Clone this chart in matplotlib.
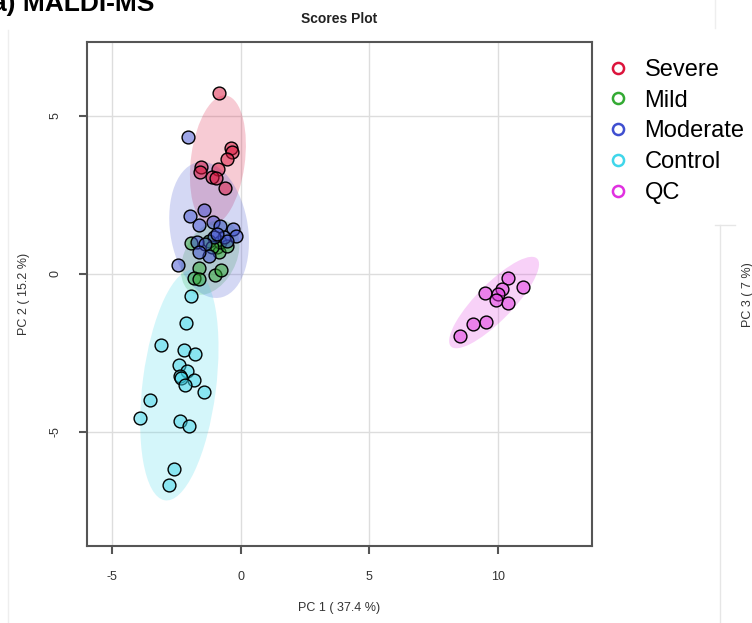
import numpy as np
import matplotlib
matplotlib.use("Agg")
import matplotlib.pyplot as plt
from matplotlib.patches import Ellipse
from matplotlib.lines import Line2D

plt.rcParams['font.family'] = ['Liberation Sans', 'DejaVu Sans']
plt.rcParams['axes.unicode_minus'] = False

# PCA scores
groups = ["Severe", "Mild", "Moderate", "Control", "QC"]
colors = ["#DC143C", "#33AA33", "#3F4FD0", "#3FD6EA", "#E030E0"]

severe_x = [-0.84, -0.36, -0.32, -0.54, -1.55, -1.58, -0.88, -1.12, -0.97, -0.62]
severe_y = [5.72, 3.97, 3.86, 3.63, 3.37, 3.23, 3.33, 3.05, 3.02, 2.73]

mild_x = [-1.94, -1.62, -1.81, -1.62, -1.01, -0.75, -0.90, -0.84, -0.78, -1.23, -1.10, -0.52]
mild_y = [0.97, 0.18, -0.14, -0.17, -0.04, 0.12, 0.84, 0.68, 1.00, 1.05, 0.84, 0.89]

moderate_x = [-2.03, -1.42, -1.96, -1.62, -1.07, -0.78, -0.28, -0.17, -0.65, -1.03,
              -1.68, -1.36, -1.23, -1.62, -2.42, -0.52, -0.90]
moderate_y = [4.34, 2.01, 1.83, 1.56, 1.63, 1.50, 1.42, 1.21, 1.16, 1.16,
              1.00, 0.95, 0.57, 0.68, 0.28, 1.05, 1.26]

control_x = [-1.94, -2.11, -3.10, -2.20, -1.77, -2.39, -2.07, -2.35, -2.30, -1.81,
             -2.16, -1.42, -3.52, -3.91, -2.35, -2.00, -2.58, -2.76]
control_y = [-0.70, -1.57, -2.24, -2.40, -2.54, -2.90, -3.07, -3.25, -3.30, -3.35,
             -3.51, -3.73, -4.01, -4.58, -4.65, -4.81, -6.17, -6.70]

qc_x = [10.38, 10.98, 9.50, 10.14, 10.01, 9.91, 10.38, 9.53, 9.04, 8.53]
qc_y = [-0.12, -0.41, -0.62, -0.49, -0.65, -0.84, -0.91, -1.52, -1.58, -1.97]

xs = [severe_x, mild_x, moderate_x, control_x, qc_x]
ys = [severe_y, mild_y, moderate_y, control_y, qc_y]

x_ticks = [-5, 0, 5, 10]
y_ticks = [-5, 0, 5]


def conf_ellipse(x, y, color, level_scale=2.4477):
    """95% data ellipse from the group covariance."""
    pts = np.column_stack([x, y])
    cov = np.cov(pts, rowvar=False)
    vals, vecs = np.linalg.eigh(cov)
    order = vals.argsort()[::-1]
    vals, vecs = vals[order], vecs[:, order]
    angle = np.degrees(np.arctan2(vecs[1, 0], vecs[0, 0]))
    w, h = 2 * level_scale * np.sqrt(vals)
    return Ellipse(pts.mean(axis=0), w, h, angle=angle,
                   facecolor=color, edgecolor='none', alpha=0.22, zorder=1)


fig = plt.figure(figsize=(7.52, 6.23), dpi=100)
ax = fig.add_axes([86.7 / 752, 1 - 546 / 623, (592 - 86.7) / 752, (546 - 42.3) / 623])

for gx, gy, col in zip(xs, ys, colors):
    ax.add_patch(conf_ellipse(gx, gy, col))

for gx, gy, col in zip(xs, ys, colors):
    ax.scatter(gx, gy, s=85, facecolor=matplotlib.colors.to_rgba(col, 0.5),
               edgecolor='black', linewidth=1.0, zorder=3)

ax.set_xlim(-5.97, 13.64)
ax.set_ylim(-8.62, 7.33)
ax.set_xticks(x_ticks)
ax.set_yticks(y_ticks)
ax.set_yticklabels([str(t) for t in y_ticks], rotation=90, va='center')
ax.grid(True, color='#dddddd', linewidth=1.0, zorder=0)
ax.set_axisbelow(True)
for sp in ax.spines.values():
    sp.set_color('#555555')
    sp.set_linewidth(1.5)
ax.tick_params(direction='out', length=6, width=1.5, color='#555555',
               labelsize=9, labelcolor='#333333', pad=12)
ax.set_xlabel('PC 1 ( 37.4 %)', fontsize=9, color='#333333', labelpad=14)
ax.set_ylabel('PC 2 ( 15.2 %)', fontsize=9, color='#333333', labelpad=14)
ax.set_title('Scores Plot', fontsize=10, fontweight='bold', color='#222222', pad=14)

handles = [Line2D([], [], linestyle='none', marker='o', markersize=8,
                  markerfacecolor='none', markeredgecolor=c, markeredgewidth=1.8)
           for c in colors]
fig.legend(handles, groups, loc='upper left', bbox_to_anchor=(609 / 752, 1 - 59 / 623),
           bbox_transform=fig.transFigure, frameon=False, fontsize=17,
           handlelength=0.8, handletextpad=0.7, labelspacing=0.37,
           borderaxespad=0, borderpad=0)

# panel label, cut off at the top edge like the screenshot
fig.text(-8 / 752, 1 - 11 / 623, 'a) MALDI-MS', fontsize=19, fontweight='bold',
         ha='left', va='baseline')

# faint remains of neighbouring panels in the screenshot
fig.add_artist(Line2D([8 / 752, 8 / 752], [1 - 30 / 623, 0], color='#eeeeee', lw=1))
fig.add_artist(Line2D([720 / 752, 720 / 752], [1 - 225 / 623, 0], color='#e6e6e6', lw=1))
fig.add_artist(Line2D([715 / 752, 735 / 752], [1 - 225 / 623, 1 - 225 / 623], color='#e6e6e6', lw=1))
fig.add_artist(Line2D([715 / 752, 715 / 752], [1, 1 - 28 / 623], color='#eeeeee', lw=1))
fig.text(742 / 752, 1 - 295 / 623, 'PC 3 ( 7 %)', fontsize=9, rotation=90,
         color='#333333', ha='left', va='center')

fig.savefig('out.png', dpi=100)
